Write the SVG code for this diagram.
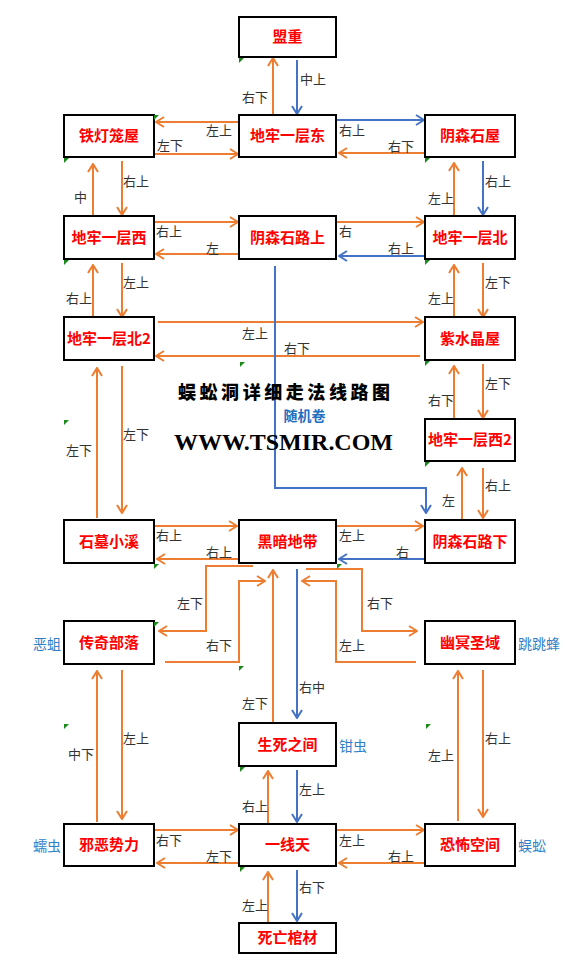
<svg xmlns="http://www.w3.org/2000/svg" width="580" height="971" viewBox="0 0 580 971">
<style>
.box{fill:#fff;stroke:#000;stroke-width:2}
.nt{font-family:"Noto Sans CJK SC","Liberation Sans",sans-serif;font-size:15px;font-weight:bold;fill:#ff0000;text-anchor:middle}
.lb{font-family:"Noto Sans CJK SC","Liberation Sans",sans-serif;font-size:13px;fill:#333}
.sd{font-family:"Noto Sans CJK SC","Liberation Sans",sans-serif;font-size:14px;fill:#2f7fc8}
.o{fill:none;stroke:#ED7D31;stroke-width:2;marker-end:url(#ao)}
.b{fill:none;stroke:#4472C4;stroke-width:2;marker-end:url(#ab)}
.g{fill:#1a8a1a}
</style>
<defs>
<marker id="ao" viewBox="0 0 10 12" refX="9" refY="6" markerWidth="10" markerHeight="12" markerUnits="userSpaceOnUse" orient="auto"><path d="M1,1 L9,6 L1,11" fill="none" stroke="#ED7D31" stroke-width="2"/></marker>
<marker id="ab" viewBox="0 0 10 12" refX="9" refY="6" markerWidth="10" markerHeight="12" markerUnits="userSpaceOnUse" orient="auto"><path d="M1,1 L9,6 L1,11" fill="none" stroke="#4472C4" stroke-width="2"/></marker>
</defs>
<rect width="580" height="971" fill="#fff"/>

<g id="connectors">
<path class="o" d="M273,115 V58"/>
<path class="b" d="M297,60 V114"/>
<path class="o" d="M239,122 H156"/>
<path class="o" d="M155,154 H238"/>
<path class="b" d="M337,120 H424"/>
<path class="o" d="M424,153 H339"/>
<path class="o" d="M93,216 V164"/>
<path class="o" d="M122,161 V215"/>
<path class="b" d="M483,161 V215"/>
<path class="o" d="M454,216 V163"/>
<path class="o" d="M155,222 H238"/>
<path class="o" d="M238,254 H156"/>
<path class="o" d="M337,222 H424"/>
<path class="b" d="M424,256 H339"/>
<path class="o" d="M122,263 V317"/>
<path class="o" d="M93,317 V265"/>
<path class="o" d="M483,263 V317"/>
<path class="o" d="M454,317 V265"/>
<path class="o" d="M158,322 H423"/>
<path class="o" d="M420,356 H156"/>
<path class="b" d="M275,266 V488 H426 V513"/>
<path class="o" d="M483,364 V418"/>
<path class="o" d="M454,418 V366"/>
<path class="o" d="M122,366 V513"/>
<path class="o" d="M97,518 V368"/>
<path class="o" d="M462,520 V468"/>
<path class="o" d="M483,468 V518"/>
<path class="o" d="M155,526 H237"/>
<path class="o" d="M238,559 H157"/>
<path class="o" d="M337,526 H423"/>
<path class="b" d="M424,559 H339"/>
<path class="o" d="M253,566 H206 V631 H159"/>
<path class="o" d="M165,662 H239 V581 H265"/>
<path class="o" d="M273,722 V570"/>
<path class="b" d="M297,569 V718"/>
<path class="o" d="M306,569 H362 V631 H417"/>
<path class="o" d="M416,662 H336 V581 H302"/>
<path class="o" d="M122,670 V819"/>
<path class="o" d="M97,822 V671"/>
<path class="o" d="M483,670 V817"/>
<path class="o" d="M458,821 V671"/>
<path class="o" d="M155,830 H238"/>
<path class="o" d="M238,863 H157"/>
<path class="o" d="M337,830 H424"/>
<path class="o" d="M424,863 H339"/>
<path class="o" d="M268,824 V771"/>
<path class="b" d="M297,770 V822"/>
<path class="o" d="M268,923 V872"/>
<path class="b" d="M297,870 V921"/>
</g>

<g id="edge-labels">
<text class="lb" x="242" y="102">右下</text>
<text class="lb" x="300" y="84">中上</text>
<text class="lb" x="206" y="135">左上</text>
<text class="lb" x="157" y="150">左下</text>
<text class="lb" x="339" y="135">右上</text>
<text class="lb" x="388" y="151">右下</text>
<text class="lb" x="74" y="202">中</text>
<text class="lb" x="123" y="186">右上</text>
<text class="lb" x="485" y="186">右上</text>
<text class="lb" x="428" y="203">左上</text>
<text class="lb" x="156" y="236">右上</text>
<text class="lb" x="206" y="253">左</text>
<text class="lb" x="339" y="236">右</text>
<text class="lb" x="388" y="253">右上</text>
<text class="lb" x="123" y="287">左上</text>
<text class="lb" x="66" y="303">右上</text>
<text class="lb" x="485" y="287">左下</text>
<text class="lb" x="428" y="303">左上</text>
<text class="lb" x="242" y="338">左上</text>
<text class="lb" x="284" y="353">右下</text>
<text class="lb" x="485" y="388">左下</text>
<text class="lb" x="428" y="405">右下</text>
<text class="lb" x="123" y="439">左下</text>
<text class="lb" x="66" y="455">左下</text>
<text class="lb" x="442" y="505">左</text>
<text class="lb" x="485" y="490">右上</text>
<text class="lb" x="156" y="540">右上</text>
<text class="lb" x="206" y="557">右上</text>
<text class="lb" x="339" y="540">左上</text>
<text class="lb" x="396" y="557">右</text>
<text class="lb" x="177" y="608">左下</text>
<text class="lb" x="206" y="650">右下</text>
<text class="lb" x="242" y="708">左下</text>
<text class="lb" x="299" y="692">右中</text>
<text class="lb" x="367" y="608">右下</text>
<text class="lb" x="339" y="650">左上</text>
<text class="lb" x="123" y="743">左上</text>
<text class="lb" x="68" y="759">中下</text>
<text class="lb" x="485" y="743">右上</text>
<text class="lb" x="428" y="760">左上</text>
<text class="lb" x="156" y="845">右下</text>
<text class="lb" x="206" y="861">左下</text>
<text class="lb" x="339" y="845">左上</text>
<text class="lb" x="388" y="861">右上</text>
<text class="lb" x="242" y="811">右上</text>
<text class="lb" x="299" y="794">左上</text>
<text class="lb" x="242" y="910">左上</text>
<text class="lb" x="299" y="892">右下</text>
</g>

<g id="n-mengzhong"><rect class="box" x="239" y="17" width="97" height="40"/><text class="nt" x="287.5" y="42">盟重</text></g>
<g id="n-tiedenglongwu"><rect class="box" x="64" y="115" width="90" height="42"/><text class="nt" x="109" y="141">铁灯笼屋</text></g>
<g id="n-dilao1dong"><rect class="box" x="239" y="115" width="97" height="42"/><text class="nt" x="287.5" y="141">地牢一层东</text></g>
<g id="n-yinsenshiwu"><rect class="box" x="425" y="115" width="90" height="42"/><text class="nt" x="470" y="141">阴森石屋</text></g>
<g id="n-dilao1xi"><rect class="box" x="64" y="216" width="90" height="43"/><text class="nt" x="109" y="243">地牢一层西</text></g>
<g id="n-yinsenshilushang"><rect class="box" x="239" y="216" width="97" height="43"/><text class="nt" x="287.5" y="243">阴森石路上</text></g>
<g id="n-dilao1bei"><rect class="box" x="425" y="216" width="90" height="43"/><text class="nt" x="470" y="243">地牢一层北</text></g>
<g id="n-dilao1bei2"><rect class="box" x="64" y="317" width="90" height="43"/><text class="nt" x="109" y="344">地牢一层北2</text></g>
<g id="n-zishuijingwu"><rect class="box" x="425" y="317" width="90" height="43"/><text class="nt" x="470" y="344">紫水晶屋</text></g>
<g id="n-dilao1xi2"><rect class="box" x="425" y="419" width="90" height="42"/><text class="nt" x="470" y="445">地牢一层西2</text></g>
<g id="n-shimuxiaoxi"><rect class="box" x="64" y="520" width="90" height="43"/><text class="nt" x="109" y="547">石墓小溪</text></g>
<g id="n-heiandidai"><rect class="box" x="239" y="520" width="97" height="43"/><text class="nt" x="287.5" y="547">黑暗地带</text></g>
<g id="n-yinsenshiluxia"><rect class="box" x="425" y="520" width="90" height="43"/><text class="nt" x="470" y="547">阴森石路下</text></g>
<g id="n-chuanqibuluo"><rect class="box" x="64" y="621" width="90" height="43"/><text class="nt" x="109" y="648">传奇部落</text></g>
<g id="n-youmingshengyu"><rect class="box" x="425" y="621" width="90" height="43"/><text class="nt" x="470" y="648">幽冥圣域</text></g>
<g id="n-shengsizhijian"><rect class="box" x="239" y="723" width="97" height="43"/><text class="nt" x="287.5" y="750">生死之间</text></g>
<g id="n-xieeshili"><rect class="box" x="64" y="824" width="90" height="42"/><text class="nt" x="109" y="850">邪恶势力</text></g>
<g id="n-yixiantian"><rect class="box" x="239" y="824" width="97" height="42"/><text class="nt" x="287.5" y="850">一线天</text></g>
<g id="n-kongbukongjian"><rect class="box" x="425" y="824" width="90" height="42"/><text class="nt" x="470" y="850">恐怖空间</text></g>
<g id="n-siwangguancai"><rect class="box" x="239" y="923" width="97" height="30"/><text class="nt" x="287.5" y="943">死亡棺材</text></g>

<g id="side-labels">
<text class="sd" x="33" y="649">恶蛆</text>
<text class="sd" x="518" y="649">跳跳蜂</text>
<text class="sd" x="339" y="751">钳虫</text>
<text class="sd" x="33" y="851">蠕虫</text>
<text class="sd" x="518" y="851">蜈蚣</text>
</g>

<g id="title">
<text x="284" y="399" textLength="212" lengthAdjust="spacing" style="font-family:'Noto Sans CJK SC',sans-serif;font-size:18px;font-weight:900;fill:#000;text-anchor:middle">蜈蚣洞详细走法线路图</text>
<text x="304.5" y="421" style="font-family:'Noto Sans CJK SC',sans-serif;font-size:14px;font-weight:bold;fill:#1f6fc0;text-anchor:middle">随机卷</text>
<text x="283.5" y="450" textLength="219" lengthAdjust="spacing" style="font-family:'Liberation Serif',serif;font-size:24px;font-weight:bold;fill:#000;text-anchor:middle">WWW.TSMIR.COM</text>
</g>

<g id="markers">
<path class="g" d="M239,58 h5 l-5,5z"/>
<path class="g" d="M154,115 h5 l-5,5z"/>
<path class="g" d="M64,158 h5 l-5,5z"/>
<path class="g" d="M425,158 h5 l-5,5z"/>
<path class="g" d="M64,260 h5 l-5,5z"/>
<path class="g" d="M425,260 h5 l-5,5z"/>
<path class="g" d="M240,362 h5 l-5,5z"/>
<path class="g" d="M425,361 h5 l-5,5z"/>
<path class="g" d="M64,420 h5 l-5,5z"/>
<path class="g" d="M425,462 h5 l-5,5z"/>
<path class="g" d="M154,564 h5 l-5,5z"/>
<path class="g" d="M154,622 h5 l-5,5z"/>
<path class="g" d="M239,666 h5 l-5,5z"/>
<path class="g" d="M337,564 h5 l-5,5z"/>
<path class="g" d="M64,724 h5 l-5,5z"/>
<path class="g" d="M240,767 h5 l-5,5z"/>
<path class="g" d="M240,867 h5 l-5,5z"/>
<path class="g" d="M426,724 h5 l-5,5z"/>
</g>
</svg>
